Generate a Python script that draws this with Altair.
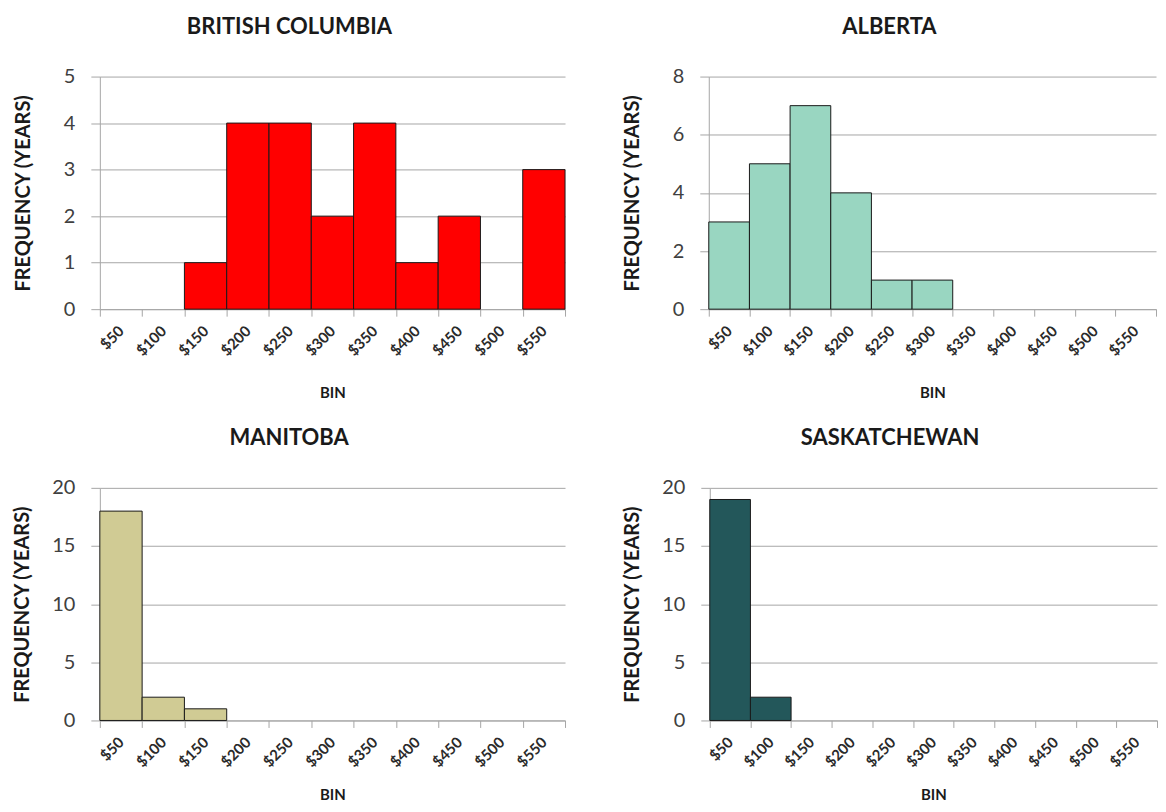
import altair as alt
import pandas as pd

bins = ["$50", "$100", "$150", "$200", "$250", "$300", "$350", "$400", "$450", "$500", "$550"]

bc_freq = [0, 0, 1, 4, 4, 2, 4, 1, 2, 0, 3]
ab_freq = [3, 5, 7, 4, 1, 1, 0, 0, 0, 0, 0]
mb_freq = [18, 2, 1, 0, 0, 0, 0, 0, 0, 0, 0]
sk_freq = [19, 2, 0, 0, 0, 0, 0, 0, 0, 0, 0]

titles = ["BRITISH COLUMBIA", "ALBERTA", "MANITOBA", "SASKATCHEWAN"]
colors = ["#FF0000", "#99D6C1", "#D0CB94", "#23575A"]

FONT = "Lato"
GRID = "#A6A6A6"
INK = "#1A1A1A"


def panel(title, values, color, ymax, step, width, tpad, xpad):
    df = pd.DataFrame({"bin": bins, "freq": values})
    return (
        alt.Chart(df, title=alt.Title(title, fontSize=22, font=FONT, fontWeight="bold",
                                      color=INK, anchor="middle", frame="bounds", offset=28))
        .transform_filter("datum.freq > 0")
        .mark_bar(color=color, stroke=INK, strokeWidth=1)
        .encode(
            x=alt.X("bin:N", sort=bins,
                    scale=alt.Scale(domain=bins, paddingInner=0, paddingOuter=0),
                    axis=alt.Axis(title="BIN", labelAngle=-45, labelAlign="right",
                                  labelBaseline="middle", tickBand="extent",
                                  labelFontSize=15, labelFont=FONT, labelFontWeight="bold",
                                  labelColor="#2A2A2A", labelPadding=12, tickSize=7,
                                  tickColor=GRID, domainColor=GRID, grid=False,
                                  titleFont=FONT, titleFontSize=15, titleFontWeight="bold",
                                  titleColor=INK, titlePadding=xpad)),
            y=alt.Y("freq:Q", scale=alt.Scale(domain=[0, ymax], nice=False),
                    axis=alt.Axis(title="FREQUENCY (YEARS)", values=list(range(0, ymax + 1, step)),
                                  labelFontSize=20, labelFont=FONT, labelColor="#404040",
                                  labelPadding=16, tickSize=9, tickColor=GRID,
                                  domainColor=GRID, gridColor=GRID, grid=True,
                                  titleFont=FONT, titleFontSize=20, titleFontWeight="bold",
                                  titleColor=INK, titlePadding=tpad)),
        )
        .properties(width=width, height=233)
    )


bc = panel(titles[0], bc_freq, colors[0], 5, 1, 466, 30, 27)
ab = panel(titles[1], ab_freq, colors[1], 8, 2, 448, 30, 27)
mb = panel(titles[2], mb_freq, colors[2], 20, 5, 466, 19, 18)
sk = panel(titles[3], sk_freq, colors[3], 20, 5, 448, 19, 18)

chart = (
    alt.concat(bc, ab, mb, sk, columns=2, align="none",
               spacing={"row": 26, "column": 56})
    .properties(padding={"left": 4, "top": 7, "right": 0, "bottom": 0})
    .configure_view(stroke=None)
)

chart.save("out.html", embed_options={"renderer": "svg", "actions": False})
